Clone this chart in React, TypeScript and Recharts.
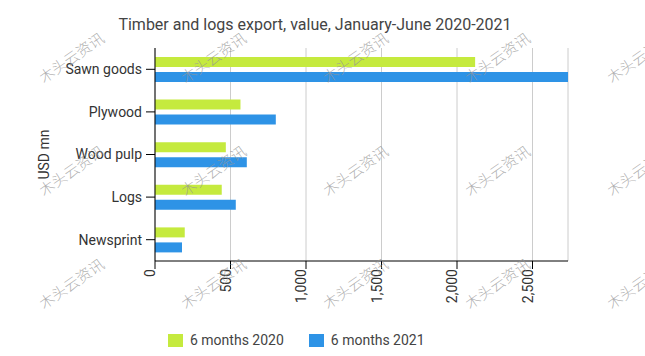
import { Bar, BarChart, CartesianGrid, Legend, XAxis, YAxis } from "recharts";

// Timber and logs export value, Jan–Jun 2020 vs 2021 (USD mn)

const categories = ["Sawn goods", "Plywood", "Wood pulp", "Logs", "Newsprint"];
const months2020 = [2120, 566, 469, 442, 197];
const months2021 = [2735, 800, 608, 535, 179];
const xTicks = [0, 500, 1000, 1500, 2000, 2500];

const GREEN = "#c5ea3e";
const BLUE = "#2e93e6";
const FONT = "Roboto, 'Noto Sans', sans-serif";

const data = categories.map((name, i) => ({
  name,
  y2020: months2020[i],
  y2021: months2021[i],
}));

function XTick(props: { x?: number; y?: number; payload?: { value: number } }) {
  const { x = 0, y = 0, payload } = props;
  const label = (payload?.value ?? 0).toLocaleString("en-US");
  return (
    <g transform={`translate(${x},${y})`}>
      <text
        x={0}
        y={0}
        transform="rotate(-90)"
        textAnchor="end"
        fill="#333"
        fontSize={14}
        fontFamily={FONT}
      >
        {label}
      </text>
    </g>
  );
}

function LegendBox() {
  const items = [
    { label: "6 months 2020", color: GREEN },
    { label: "6 months 2021", color: BLUE },
  ];
  return (
    <div style={{ display: "flex", gap: 25, paddingLeft: 168, height: 20, alignItems: "center" }}>
      {items.map((it) => (
        <div key={it.label} style={{ display: "flex", alignItems: "center", gap: 7 }}>
          <span style={{ width: 15, height: 13, background: it.color, display: "inline-block" }} />
          <span style={{ fontSize: 14, color: "#444", fontFamily: FONT }}>{it.label}</span>
        </div>
      ))}
    </div>
  );
}

function Watermarks() {
  const marks: { left: number; top: number }[] = [];
  for (let r = 0; r < 3; r++) {
    for (let c = 0; c < 5; c++) {
      marks.push({ left: 71 + c * 142, top: 57 + r * 113 });
    }
  }
  return (
    <>
      {marks.map((m, i) => (
        <div
          key={i}
          style={{
            position: "absolute",
            left: m.left,
            top: m.top,
            transform: "translate(-50%, -50%) rotate(-35deg)",
            fontSize: 15,
            color: "rgba(150,150,150,0.75)",
            fontFamily: "'Noto Sans CJK SC', sans-serif",
            fontWeight: 300,
            whiteSpace: "nowrap",
            pointerEvents: "none",
          }}
        >
          木头云资讯
        </div>
      ))}
    </>
  );
}

export default function App() {
  return (
    <div style={{ position: "absolute", left: 0, top: 0, width: 645, height: 356, background: "#fff", overflow: "hidden" }}>
      <div
        style={{
          position: "absolute",
          left: 0,
          width: 630,
          top: 15,
          textAlign: "center",
          fontSize: 16,
          color: "#444",
          fontFamily: FONT,
        }}
      >
        Timber and logs export, value, January-June 2020-2021
      </div>
      <BarChart
        width={645}
        height={356}
        data={data}
        layout="vertical"
        margin={{ top: 48, right: 77, left: 0, bottom: 35 }}
        barSize={10}
        barGap={5}
      >
        <CartesianGrid horizontal={false} stroke="#cccccc" />
        <XAxis
          type="number"
          domain={[0, "dataMax"]}
          ticks={xTicks}
          tick={<XTick />}
          tickSize={8}
          tickMargin={0}
          stroke="#000"
          height={40}
          interval={0}
        />
        <YAxis
          type="category"
          dataKey="name"
          width={155}
          tickSize={9}
          tickMargin={4}
          stroke="#000"
          tick={{ fill: "#333", fontSize: 14, fontFamily: FONT }}
          label={{
            value: "USD mn",
            angle: -90,
            position: "center",
            dx: -33,
            fill: "#333",
            fontSize: 14,
            fontFamily: FONT,
          }}
        />
        <Legend verticalAlign="bottom" content={<LegendBox />} wrapperStyle={{ top: 330 }} />
        <Bar dataKey="y2020" name="6 months 2020" fill={GREEN} isAnimationActive={false} />
        <Bar dataKey="y2021" name="6 months 2021" fill={BLUE} isAnimationActive={false} />
      </BarChart>
      <Watermarks />
    </div>
  );
}
